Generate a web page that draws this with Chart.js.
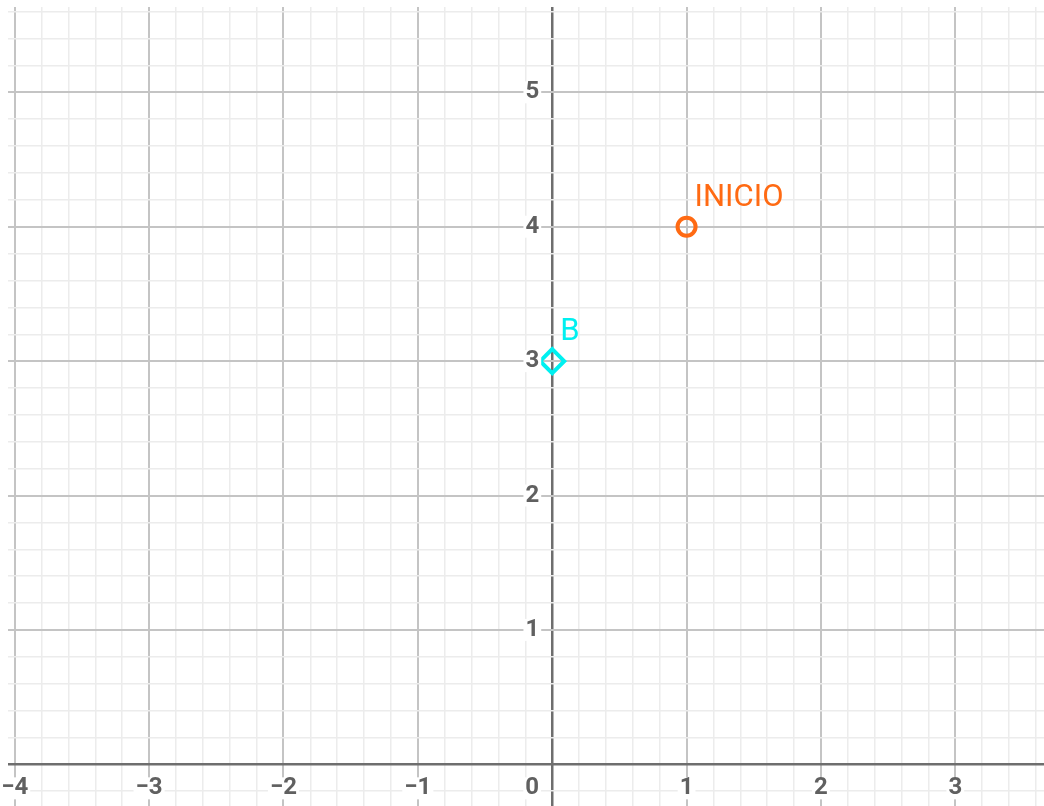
<!DOCTYPE html>
<html>
<head>
<meta charset="utf-8">
<script src="https://cdn.jsdelivr.net/npm/chart.js@4/dist/chart.umd.min.js"></script>
<style>
  html, body { margin: 0; padding: 0; background: #fff; }
  #wrap { width: 1044px; height: 806px; }
</style>
</head>
<body>
<div id="wrap"><canvas id="plano"></canvas></div>
<script>
// puntos del plano
const nombres = ["INICIO", "B"];
const puntosX = [1, 0];
const puntosY = [4, 3];

// etiquetas de los ejes
const ticksX = [-4, -3, -2, -1, 0, 1, 2, 3];
const ticksY = [1, 2, 3, 4, 5];

// ventana visible
const rangoX = [-4.05, 3.66];
const rangoY = [-0.31, 5.635];

const esEntero = (v) => Math.abs(v - Math.round(v)) < 1e-6;
const fmt = (v) => (v < 0 ? "\u2212" + Math.abs(v) : String(v));

function colorGrid(ctx) {
  const v = ctx.tick.value;
  if (Math.abs(v) < 1e-6) return "#6e6e6e";
  if (esEntero(v)) return "#c4c4c4";
  return "#ececec";
}
function anchoGrid(ctx) {
  const v = ctx.tick.value;
  if (Math.abs(v) < 1e-6) return 2.5;
  if (esEntero(v)) return 2;
  return 1.5;
}

const etiquetas = {
  id: "etiquetas",
  afterDatasetsDraw(chart) {
    const { ctx } = chart;
    const sx = chart.scales.x;
    const sy = chart.scales.y;
    const x0 = sx.getPixelForValue(0);
    const y0 = sy.getPixelForValue(0);
    ctx.save();
    // numeros de los ejes
    ctx.font = "bold 24px Roboto";
    ctx.textBaseline = "middle";
    ctx.textAlign = "center";
    ticksX.forEach((t) => {
      const px = t === 0 ? x0 - 20 : sx.getPixelForValue(t);
      const txt = fmt(t);
      const w = ctx.measureText(txt).width;
      ctx.fillStyle = "#fff";
      ctx.fillRect(px - w / 2 - 2, y0 + 13, w + 4, 22);
      ctx.fillStyle = "#606060";
      ctx.fillText(txt, px, y0 + 24);
    });
    ctx.textAlign = "right";
    ticksY.forEach((t) => {
      const py = sy.getPixelForValue(t);
      const txt = fmt(t);
      const w = ctx.measureText(txt).width;
      ctx.fillStyle = "#fff";
      ctx.fillRect(x0 - 13 - w - 2, py - 11, w + 4, 22);
      ctx.fillStyle = "#606060";
      ctx.fillText(txt, x0 - 13, py);
    });
    // nombres de los puntos
    chart.data.datasets.forEach((ds, i) => {
      chart.getDatasetMeta(i).data.forEach((el) => {
        ctx.fillStyle = ds.borderColor;
        ctx.font = "31px Roboto";
        ctx.textAlign = "left";
        ctx.textBaseline = "alphabetic";
        ctx.fillText(ds.label, el.x + 8, el.y - 21);
      });
    });
    ctx.restore();
  },
};

const estilos = [
  { color: "#ff6a13", forma: "circle", radio: 9 },
  { color: "#00f0f0", forma: "rectRot", radio: 12 },
];

new Chart(document.getElementById("plano"), {
  type: "scatter",
  data: {
    datasets: nombres.map((n, i) => ({
      label: n,
      data: [{ x: puntosX[i], y: puntosY[i] }],
      borderColor: estilos[i].color,
      backgroundColor: "rgba(0,0,0,0)",
      pointStyle: estilos[i].forma,
      pointRadius: estilos[i].radio,
      pointBorderWidth: 4,
    })),
  },
  options: {
    responsive: true,
    maintainAspectRatio: false,
    animation: false,
    layout: { autoPadding: false, padding: { left: 8, top: 7, right: 0, bottom: 0 } },
    plugins: { legend: { display: false }, tooltip: { enabled: false } },
    scales: {
      x: {
        type: "linear",
        position: { y: 0 },
        min: rangoX[0],
        max: rangoX[1],
        border: { display: false },
        grid: { color: colorGrid, lineWidth: anchoGrid, drawTicks: false },
        ticks: { display: false, stepSize: 0.2, includeBounds: false, autoSkip: false },
      },
      y: {
        type: "linear",
        position: { x: 0 },
        min: rangoY[0],
        max: rangoY[1],
        border: { display: false },
        grid: { color: colorGrid, lineWidth: anchoGrid, drawTicks: false },
        ticks: { display: false, stepSize: 0.2, includeBounds: false, autoSkip: false },
      },
    },
  },
  plugins: [etiquetas],
});
</script>
</body>
</html>
